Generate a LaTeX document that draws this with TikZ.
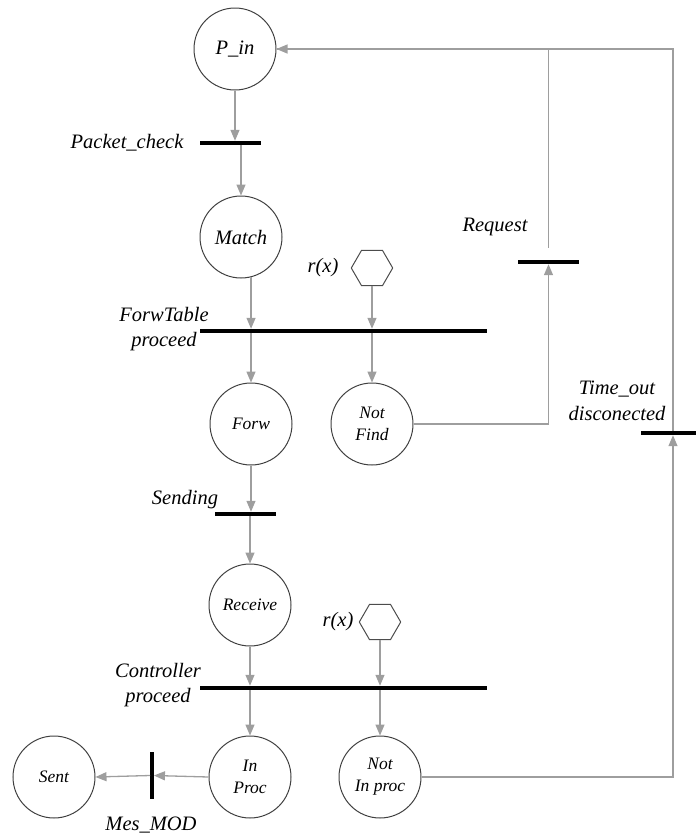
\documentclass[tikz,border=0pt]{standalone}
\usepackage{fontspec}
\setmainfont{Liberation Serif}
\usetikzlibrary{arrows.meta}
\begin{document}
\begin{tikzpicture}[x=1pt,y=-1pt,
  place/.style={circle,draw=black!75,line width=1pt,minimum size=82pt,inner sep=0pt,align=center},
  bigtxt/.style={font=\itshape\fontsize{20.5}{24}\selectfont},
  smalltxt/.style={font=\itshape\fontsize{17.5}{22}\selectfont},
  lbl/.style={font=\itshape\fontsize{20.5}{25.5}\selectfont,inner sep=0pt,align=center},
  hbar/.style={fill=black,draw=none,minimum height=4pt,inner sep=0pt},
  vbar/.style={fill=black,draw=none,minimum width=3.5pt,inner sep=0pt},
  hexbox/.style={rectangle,draw=none,minimum width=41pt,minimum height=35pt,inner sep=0pt},
  hexline/.style={draw=black!70,line width=1pt,line join=round},
  arc/.style={draw=black!38,line width=1.3pt,-{Triangle[length=11pt,width=9pt]}},
  link/.style={draw=black!38,line width=1.3pt}
]
\path[use as bounding box] (0,0) rectangle (696,836);

% places
\node[place,bigtxt] (pin) at (235,49) {P\_in};
\node[place,bigtxt] (match) at (241,237) {Match};
\node[place,smalltxt] (forw) at (251,424) {Forw};
\node[place,smalltxt] (nf) at (372,424) {Not\\Find};
\node[place,smalltxt] (recv) at (250,605) {Receive};
\node[place,smalltxt] (inp) at (250,777) {In\\Proc};
\node[place,smalltxt] (nip) at (380,777) {Not\\In proc};
\node[place,smalltxt] (sent) at (54,777) {Sent};

% resource places (hexagons)
\node[hexbox] (hexa) at (372,268) {};
\node[hexbox] (hexb) at (380,622) {};
\foreach \h in {hexa,hexb}{
  \draw[hexline] (\h.west) -- ([xshift=10.25pt]\h.north west) -- ([xshift=-10.25pt]\h.north east)
    -- (\h.east) -- ([xshift=-10.25pt]\h.south east) -- ([xshift=10.25pt]\h.south west) -- cycle;
}
\node[lbl] (rxa) at (323,268) {r(x)};
\node[lbl] (rxb) at (338,622) {r(x)};

% transitions
\node[hbar,minimum width=61pt] (pc) at (230.5,143) {};
\node[hbar,minimum width=287pt] (ft) at (343.5,331) {};
\node[hbar,minimum width=61pt] (req) at (548.5,262) {};
\node[hbar,minimum width=64pt] (to) at (673,433) {};
\node[hbar,minimum width=61pt] (snd) at (245.5,514) {};
\node[hbar,minimum width=287pt] (ctrl) at (343.5,688) {};
\node[vbar,minimum height=47pt] (mes) at (152,775.5) {};

% transition labels
\node[lbl] (pclbl) at (127,143) {Packet\_check};
\node[lbl] (ftlbl) at (164,329) {ForwTable\\proceed};
\node[lbl] (reqlbl) at (495,227) {Request};
\node[lbl] (tolbl) at (617,401) {Time\_out\\disconected};
\node[lbl] (sndlbl) at (185,500) {Sending};
\node[lbl] (ctrllbl) at (158,685) {Controller\\proceed};
\node[lbl] (meslbl) at (151,825) {Mes\_MOD};

% arcs
\draw[arc] (pin.south) -- (pin.south |- pc.north);
\draw[arc] (match.north |- pc.south) -- (match.north);
\draw[arc] (match.-76) -- (match.-76 |- ft.north);
\draw[arc] (hexa.south) -- (hexa.south |- ft.north);
\draw[arc] (forw.north |- ft.south) -- (forw.north);
\draw[arc] (nf.north |- ft.south) -- (nf.north);
\draw[arc] (nf.east) -| (req.south);
\draw[arc,shorten <=12pt] (req.north) |- (pin.east);
\draw[link] (to.north) |- (pin.east);
\draw[arc] (nip.east) -| (to.south);
\draw[arc] (forw.south) -- (forw.south |- snd.north);
\draw[arc] (recv.north |- snd.south) -- (recv.north);
\draw[arc] (recv.south) -- (recv.south |- ctrl.north);
\draw[arc] (hexb.south) -- (hexb.south |- ctrl.north);
\draw[arc] (inp.north |- ctrl.south) -- (inp.north);
\draw[arc] (nip.north |- ctrl.south) -- (nip.north);
\draw[arc] (inp.west) -- (mes.east);
\draw[arc] (mes.west) -- (sent.east);
\end{tikzpicture}
\end{document}
